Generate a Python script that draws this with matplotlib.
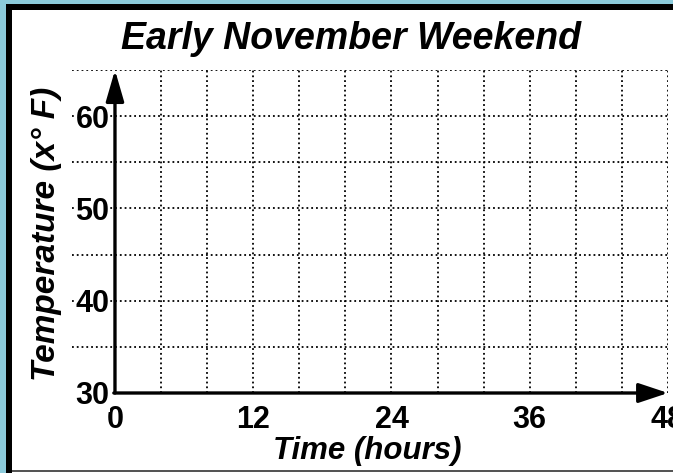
import numpy as np
from matplotlib import pyplot as plt
from matplotlib.patches import Rectangle

# chart values
title = 'Early November Weekend'
x_label = 'Time (hours)'
y_label = 'Temperature (x° F)'
x_ticks = [0, 12, 24, 36, 48]
y_ticks = [30, 40, 50, 60]
x_grid = np.arange(4, 49, 4)
y_grid = np.arange(35, 66, 5)
x_min, x_max = -3.73, 48
y_min, y_max = 30, 65

W, H = 673, 473
plt.rcParams['font.family'] = ['Liberation Sans', 'DejaVu Sans']

fig = plt.figure(figsize=(W / 100, H / 100), dpi=100)
fig.patch.set_facecolor('#8ccbdb')


def fx(px):
    return px / W


def fy(py):
    return 1 - py / H


# black frame + white panel (behind the axes)
fig.patches.append(Rectangle((fx(6), 0), 1, fy(4), transform=fig.transFigure,
                             facecolor='black', edgecolor='none', zorder=-3))
fig.patches.append(Rectangle((fx(12), 0), 1, fy(10), transform=fig.transFigure,
                             facecolor='white', edgecolor='none', zorder=-2))
fig.patches.append(Rectangle((fx(12), fy(471.5)), 1, 1.5 / H, transform=fig.transFigure,
                             facecolor='#555555', edgecolor='none', zorder=-1))

ax = fig.add_axes([fx(72), fy(393), fx(668) - fx(72), fy(70) - fy(393)])
ax.set_facecolor('none')
ax.set_xlim(x_min, x_max)
ax.set_ylim(y_min, y_max)
for s in ax.spines.values():
    s.set_visible(False)

ax.vlines(x_grid, y_min, y_max, colors='black', linestyles=':', lw=1.3, zorder=1)
ax.hlines(y_grid, x_min, x_max, colors='black', linestyles=':', lw=1.3, zorder=1)

# axis arrows
ax.annotate('', xy=(0, y_max), xytext=(0, y_min),
            arrowprops=dict(arrowstyle='-|>,head_length=1.9,head_width=0.55',
                            lw=2.4, color='black', shrinkA=0, shrinkB=0), zorder=3)
ax.annotate('', xy=(x_max, y_min), xytext=(-0.1, y_min),
            arrowprops=dict(arrowstyle='-|>,head_length=1.8,head_width=0.6',
                            lw=2.4, color='black', shrinkA=0, shrinkB=0), zorder=3)

ax.set_xticks(x_ticks)
ax.set_yticks(y_ticks)
ax.tick_params(length=0, labelsize=22)
ax.tick_params(axis='x', pad=8.5)
ax.tick_params(axis='y', pad=-27)
for lbl in ax.get_xticklabels() + ax.get_yticklabels():
    lbl.set_fontweight('bold')
for lbl in ax.get_yticklabels():
    lbl.set_bbox(dict(facecolor='white', edgecolor='none', pad=0))
    lbl.set_zorder(2)

fig.text(fx(351), fy(49), title, ha='center', va='baseline',
         fontsize=27, fontweight='bold', fontstyle='italic')
fig.text(fx(367), fy(459), x_label, ha='center', va='baseline',
         fontsize=22.5, fontweight='bold', fontstyle='italic')
fig.text(fx(55), fy(234), y_label, ha='center', va='baseline', rotation=90,
         rotation_mode='anchor', fontsize=24, fontweight='bold', fontstyle='italic')

plt.savefig('out.png', dpi=100)
